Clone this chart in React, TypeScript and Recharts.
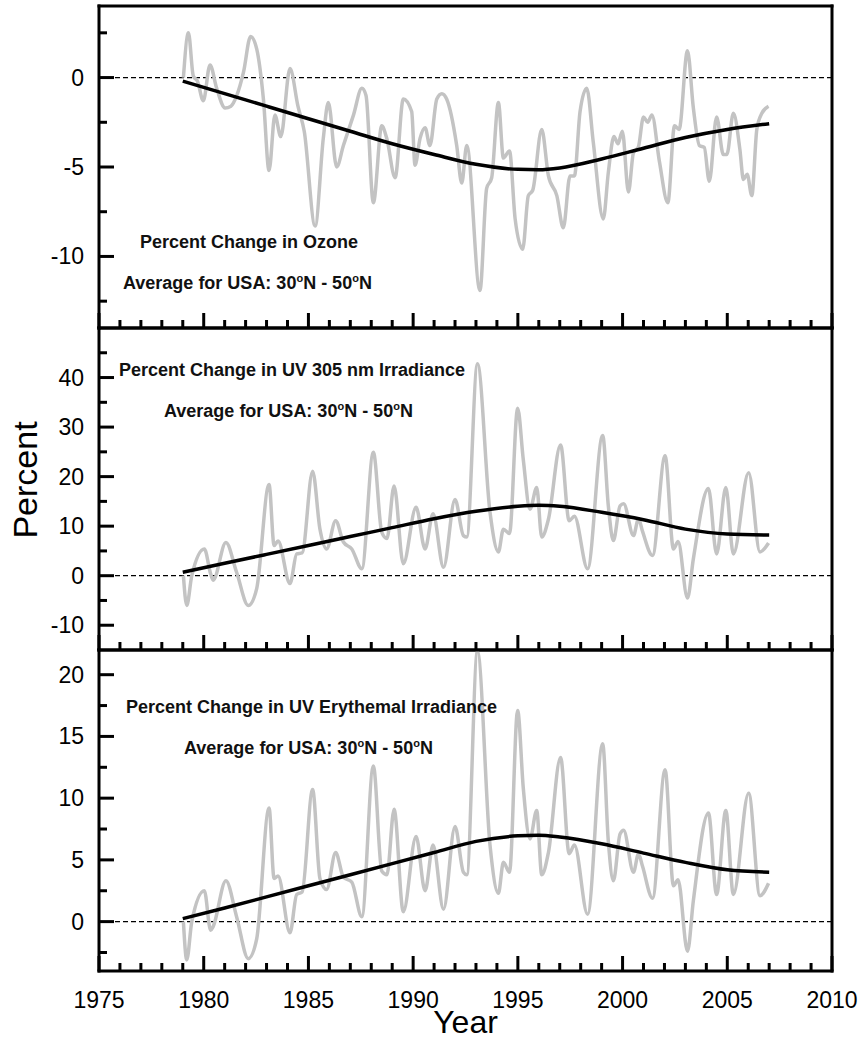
import React from 'react';
import { LineChart, Line, XAxis, YAxis, ReferenceLine } from 'recharts';

// x axis: one tick per year, labels every five years
const yearTicks = [
  1975, 1976, 1977, 1978, 1979, 1980, 1981, 1982, 1983, 1984, 1985, 1986,
  1987, 1988, 1989, 1990, 1991, 1992, 1993, 1994, 1995, 1996, 1997, 1998,
  1999, 2000, 2001, 2002, 2003, 2004, 2005, 2006, 2007, 2008, 2009, 2010,
];
const yearLabels = [1975, 1980, 1985, 1990, 1995, 2000, 2005, 2010];

// ozone, percent change (monthly-ish smoothed anomaly)
const ozoneYears = [
  1979.03, 1979.27, 1979.5, 1979.7, 1979.98, 1980.3, 1980.62, 1981.02, 1981.3, 1981.58,
  1981.9, 1982.24, 1982.53, 1982.85, 1983.12, 1983.4, 1983.68, 1984.12, 1984.5, 1984.8,
  1985.32, 1985.71, 1985.95, 1986.35, 1986.67, 1987.15, 1987.55, 1987.75, 1988.1, 1988.5,
  1988.74, 1989.14, 1989.53, 1989.93, 1990.09, 1990.33, 1990.57, 1990.8, 1991.13, 1991.37,
  1991.6, 1992.08, 1992.32, 1992.56, 1993.19, 1993.51, 1993.75, 1994.07, 1994.31, 1994.6,
  1994.87, 1995.23, 1995.5, 1995.71, 1996.14, 1996.46, 1996.86, 1997.17, 1997.49, 1997.7,
  1997.97, 1998.29, 1998.6, 1999.08, 1999.32, 1999.59, 1999.78, 1999.99, 2000.28, 2000.52,
  2000.75, 2001.0, 2001.2, 2001.4, 2001.76, 2002.16, 2002.48, 2002.7, 2003.1, 2003.38,
  2003.67, 2003.9, 2004.14, 2004.49, 2004.81, 2004.98, 2005.29, 2005.6, 2005.77, 2005.95,
  2006.17, 2006.41, 2006.65, 2006.97,
];
const ozoneValues = [
  0.0, 2.5, 0.1, -0.2, -1.3, 0.7, -0.6, -1.7, -1.6, -1.0,
  0.3, 2.3, 1.6, -1.2, -5.2, -2.1, -3.3, 0.5, -1.6, -3.0,
  -8.3, -3.4, -1.4, -5.0, -3.8, -2.1, -0.6, -1.0, -7.0, -2.7,
  -3.4, -5.6, -1.2, -1.9, -4.9, -3.4, -2.8, -3.8, -1.2, -0.9,
  -1.2, -3.8, -5.9, -3.8, -11.9, -6.2, -5.6, -1.4, -4.5, -4.1,
  -7.9, -9.6, -6.6, -6.3, -2.9, -5.5, -6.6, -8.4, -5.5, -5.5,
  -1.9, -0.6, -3.6, -7.9, -5.3, -3.3, -3.7, -3.0, -6.4, -4.2,
  -3.9, -2.2, -2.5, -2.1, -4.7, -7.0, -2.7, -2.9, 1.5, -1.7,
  -3.8, -3.9, -5.8, -2.2, -4.3, -4.3, -2.0, -4.0, -5.7, -5.4,
  -6.6, -2.9, -2.0, -1.6,
];

// UV 305 nm irradiance, percent change
const uv305Years = [
  1979.03, 1979.19, 1979.43, 1980.03, 1980.33, 1980.45, 1981.06, 1981.57, 1982.13, 1982.53,
  1983.12, 1983.36, 1983.55, 1984.12, 1984.44, 1984.7, 1985.2, 1985.55, 1985.87, 1986.3,
  1986.67, 1987.07, 1987.55, 1988.1, 1988.5, 1988.75, 1989.09, 1989.53, 1990.14, 1990.57,
  1990.95, 1991.45, 1992.0, 1992.4, 1992.56, 1993.07, 1993.67, 1994.07, 1994.31, 1994.6,
  1994.99, 1995.26, 1995.58, 1995.9, 1996.14, 1996.46, 1997.04, 1997.45, 1997.7, 1998.33,
  1999.05, 1999.32, 1999.56, 1999.88, 2000.05, 2000.52, 2000.76, 2000.95, 2001.43, 2002.03,
  2002.43, 2002.65, 2003.1, 2003.38, 2004.1, 2004.49, 2004.93, 2005.29, 2006.02, 2006.56,
  2006.97,
];
const uv305Values = [
  0.0, -6.0, 0.0, 5.4, 0.4, -0.9, 6.7, 0.7, -6.0, -2.6,
  18.4, 6.1, 7.0, -1.6, 4.4, 4.6, 21.1, 9.4, 5.4, 11.1,
  6.8, 5.4, 1.4, 24.9, 8.8, 7.5, 18.1, 2.4, 13.8, 5.4,
  12.5, 1.7, 15.4, 8.1, 7.8, 42.8, 12.8, 4.8, 9.4, 8.5,
  33.8, 23.4, 13.4, 17.8, 7.8, 11.4, 26.4, 11.1, 12.0, 1.4,
  28.3, 14.1, 7.1, 14.1, 14.5, 8.1, 11.5, 9.0, 4.1, 24.2,
  5.4, 6.9, -4.5, 3.4, 17.6, 4.4, 17.8, 4.4, 20.8, 4.8,
  6.6,
];

// UV erythemal irradiance, percent change
const uvEryYears = uv305Years;
const uvEryValues = [
  0.0, -3.1, 0.0, 2.5, -0.7, -0.4, 3.3, 0.4, -3.0, -1.4,
  9.2, 3.5, 3.7, -0.9, 2.2, 2.4, 10.7, 3.5, 2.6, 5.6,
  3.6, 3.2, 0.4, 12.6, 4.1, 3.8, 9.1, 0.8, 6.9, 2.5,
  6.2, 1.0, 7.7, 4.0, 3.8, 21.9, 6.2, 2.3, 4.8, 4.0,
  17.1, 10.8, 6.7, 9.0, 3.8, 5.6, 13.3, 5.5, 6.2, 0.6,
  14.4, 6.5, 3.3, 7.1, 7.4, 4.0, 5.5, 4.5, 1.9, 12.3,
  2.9, 3.4, -2.4, 1.7, 8.8, 2.2, 9.0, 2.2, 10.4, 2.1,
  3.1,
];

// smooth long-term fits
const trendYears = [1979, 1981, 1983, 1985, 1987, 1989, 1991, 1993, 1995, 1996, 1997, 1999, 2001, 2003, 2005, 2007];
const ozoneTrend = [-0.2, -0.9, -1.6, -2.3, -3.0, -3.7, -4.3, -4.85, -5.13, -5.15, -5.05, -4.55, -3.95, -3.35, -2.9, -2.58];
const uv305Trend = [0.7, 2.5, 4.3, 6.1, 7.9, 9.7, 11.5, 13.0, 14.0, 14.2, 14.0, 12.8, 11.3, 9.4, 8.4, 8.2];
const uvEryTrend = [0.24, 1.1, 2.0, 2.9, 3.8, 4.7, 5.6, 6.5, 6.95, 7.0, 6.85, 6.3, 5.55, 4.8, 4.2, 4.0];

// y axis ticks and labelled values per panel
const ozoneTicks = [-12.5, -10, -7.5, -5, -2.5, 0, 2.5];
const ozoneLabels = [-10, -5, 0];
const uv305Ticks = [-10, -5, 0, 5, 10, 15, 20, 25, 30, 35, 40, 45];
const uv305Labels = [-10, 0, 10, 20, 30, 40];
const uvEryTicks = [-2.5, 0, 2.5, 5, 7.5, 10, 12.5, 15, 17.5, 20];
const uvEryLabels = [0, 5, 10, 15, 20];

const toRows = (xs: number[], ys: number[]) => xs.map((year, i) => ({ year, value: ys[i] }));

const WIDTH = 864;
const PLOT_LEFT = 99;
const PLOT_RIGHT = 832;
const AXIS_FONT = "'Liberation Sans Narrow', 'Arial Narrow', 'Liberation Sans', Arial, sans-serif";
const NOTE_FONT = "'Liberation Sans', Arial, Helvetica, sans-serif";
const FRAME = { stroke: '#000', strokeWidth: 3, strokeLinecap: 'square' as const };

const XTick = (props: any) => {
  const { x, y, payload, side, showLabels } = props;
  const v = payload.value;
  const major = v % 5 === 0;
  const len = major ? 15 : 8;
  const dir = side === 'top' ? 1 : -1;
  return (
    <g>
      <line x1={x} y1={y} x2={x} y2={y + dir * len} stroke="#000" strokeWidth={3} />
      {showLabels && yearLabels.includes(v) && (
        <text x={x} y={y + 37} textAnchor="middle" fontFamily={AXIS_FONT} fontSize={23} fill="#000">
          {v}
        </text>
      )}
    </g>
  );
};

const YTick = (props: any) => {
  const { x, y, payload, side, labels } = props;
  const v = payload.value;
  const major = labels.includes(v);
  const len = major ? 15 : 8;
  const dir = side === 'left' ? 1 : -1;
  return (
    <g>
      <line x1={x} y1={y} x2={x + dir * len} y2={y} stroke="#000" strokeWidth={3} />
      {side === 'left' && major && (
        <text x={x - 15} y={y + 8} textAnchor="end" fontFamily={AXIS_FONT} fontSize={23} fill="#000">
          {v}
        </text>
      )}
    </g>
  );
};

type PanelProps = {
  plotTop: number;
  plotHeight: number;
  below: number;
  domain: [number, number];
  yTicks: number[];
  yLabels: number[];
  raw: { year: number; value: number }[];
  trend: { year: number; value: number }[];
  showYears?: boolean;
};

const Panel = ({ plotTop, plotHeight, below, domain, yTicks, yLabels, raw, trend, showYears }: PanelProps) => {
  const pad = 10;
  return (
    <div style={{ position: 'absolute', left: 0, top: plotTop - pad }}>
      <LineChart
        width={WIDTH}
        height={pad + plotHeight + below}
        margin={{ top: pad - 5, right: WIDTH - PLOT_RIGHT - 10, bottom: below - 5, left: PLOT_LEFT - 50 }}
      >
        <XAxis
          xAxisId="b" orientation="bottom" type="number" dataKey="year" domain={[1975, 2010]}
          ticks={yearTicks} interval={0} height={5} tickSize={0} tickMargin={0}
          axisLine={FRAME} tickLine={false} tick={<XTick side="bottom" showLabels={showYears} />}
        />
        <XAxis
          xAxisId="t" orientation="top" type="number" dataKey="year" domain={[1975, 2010]}
          ticks={yearTicks} interval={0} height={5} tickSize={0} tickMargin={0}
          axisLine={FRAME} tickLine={false} tick={<XTick side="top" />}
        />
        <YAxis
          yAxisId="l" orientation="left" type="number" domain={domain}
          ticks={yTicks} interval={0} width={50} tickSize={0} tickMargin={0}
          axisLine={FRAME} tickLine={false} tick={<YTick side="left" labels={yLabels} />}
        />
        <YAxis
          yAxisId="r" orientation="right" type="number" domain={domain}
          ticks={yTicks} interval={0} width={10} tickSize={0} tickMargin={0}
          axisLine={FRAME} tickLine={false} tick={<YTick side="right" labels={yLabels} />}
        />
        <ReferenceLine xAxisId="b" yAxisId="l" y={0} stroke="#000" strokeWidth={1.2} strokeDasharray="5 3" />
        <Line
          xAxisId="b" yAxisId="l" data={raw} dataKey="value" type="monotone"
          stroke="#c3c3c3" strokeWidth={3.5} dot={false} isAnimationActive={false}
        />
        <Line
          xAxisId="b" yAxisId="l" data={trend} dataKey="value" type="monotone"
          stroke="#000" strokeWidth={3.5} dot={false} isAnimationActive={false}
        />
      </LineChart>
    </div>
  );
};

const Note = ({ left, cy, children }: { left: number; cy: number; children: React.ReactNode }) => (
  <div
    style={{
      position: 'absolute', left, top: cy, transform: 'translateY(-50%)', whiteSpace: 'nowrap',
      fontFamily: NOTE_FONT, fontWeight: 'bold', fontSize: 18, lineHeight: 1, color: '#111',
    }}
  >
    {children}
  </div>
);

const Region = () => (
  <>
    Average for USA: 30<sup style={{ fontSize: 11 }}>o</sup>N - 50<sup style={{ fontSize: 11 }}>o</sup>N
  </>
);

export default function App() {
  return (
    <div style={{ position: 'absolute', left: 0, top: 0, width: WIDTH, height: 1043, background: '#fff', overflow: 'hidden' }}>
      <Panel
        plotTop={6} plotHeight={322} below={10} domain={[-14, 4]}
        yTicks={ozoneTicks} yLabels={ozoneLabels}
        raw={toRows(ozoneYears, ozoneValues)} trend={toRows(trendYears, ozoneTrend)}
      />
      <Panel
        plotTop={328} plotHeight={322} below={10} domain={[-15, 50]}
        yTicks={uv305Ticks} yLabels={uv305Labels}
        raw={toRows(uv305Years, uv305Values)} trend={toRows(trendYears, uv305Trend)}
      />
      <Panel
        plotTop={650} plotHeight={321} below={70} domain={[-4, 22]}
        yTicks={uvEryTicks} yLabels={uvEryLabels}
        raw={toRows(uvEryYears, uvEryValues)} trend={toRows(trendYears, uvEryTrend)} showYears
      />

      <Note left={140} cy={242}>Percent Change in Ozone</Note>
      <Note left={123} cy={282}><Region /></Note>
      <Note left={119} cy={370}>Percent Change in UV 305 nm Irradiance</Note>
      <Note left={164} cy={410}><Region /></Note>
      <Note left={126} cy={707}>Percent Change in UV Erythemal Irradiance</Note>
      <Note left={184} cy={747}><Region /></Note>

      <div
        style={{
          position: 'absolute', left: 25, top: 480, transform: 'translate(-50%, -50%) rotate(-90deg)',
          fontFamily: AXIS_FONT, fontSize: 34, whiteSpace: 'nowrap', lineHeight: 1,
        }}
      >
        Percent
      </div>
      <div
        style={{
          position: 'absolute', left: (PLOT_LEFT + PLOT_RIGHT) / 2, top: 1023, transform: 'translate(-50%, -50%)',
          fontFamily: AXIS_FONT, fontSize: 32, whiteSpace: 'nowrap', lineHeight: 1.1,
        }}
      >
        Year
      </div>
    </div>
  );
}
